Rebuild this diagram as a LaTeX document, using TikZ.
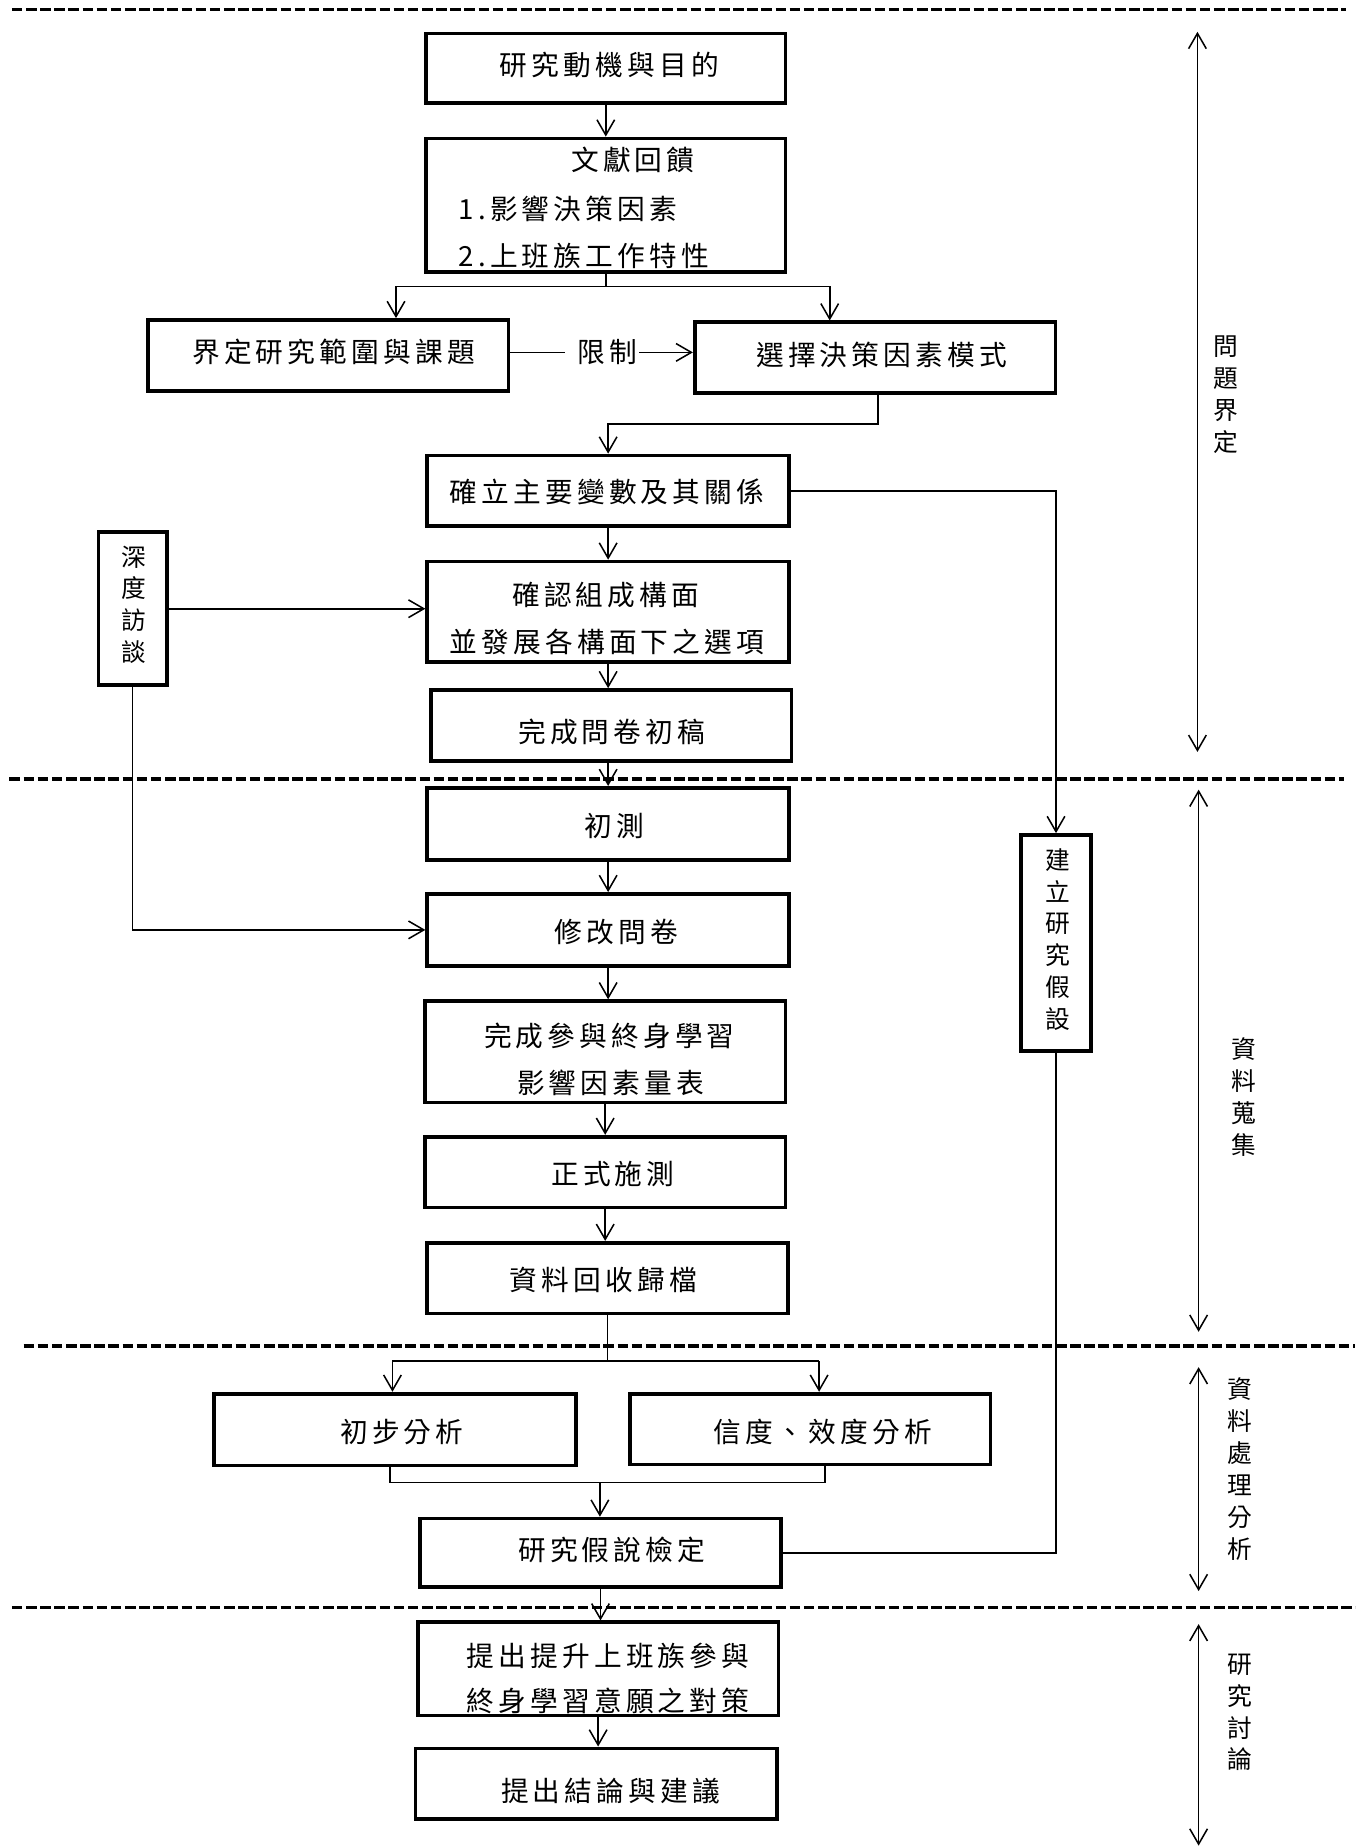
\documentclass[tikz,border=0pt]{standalone}
\usepackage{fontspec}
\newfontfamily\cjk{Noto Sans CJK TC}[LetterSpace=15]
\newfontfamily\cjkv{Noto Sans CJK TC}
\usetikzlibrary{arrows.meta}
\tikzset{
  box/.style={draw, line width=3.2pt, inner sep=0pt},
  txt/.style={font=\cjk\fontsize{23.5}{30}\selectfont, inner sep=0pt},
  vtxt/.style={font=\cjkv\fontsize{21}{27}\selectfont, align=center, inner sep=0pt},
  conn/.style={line width=1.4pt},
  arr/.style={conn, -{Straight Barb[length=13pt,width=15pt,line width=1.3pt]}},
  dbl/.style={conn, {Straight Barb[length=13pt,width=15pt,line width=1.3pt]}-{Straight Barb[length=13pt,width=15pt,line width=1.3pt]}},
  sep/.style={line width=3pt, dash pattern=on 9pt off 3pt},
}
\begin{document}
\begin{tikzpicture}[x=1pt,y=-1pt]
\useasboundingbox (0,0) rectangle (1150,1568);
% separators
\coordinate (s1a) at (10,8);    \coordinate (s1b) at (1142,8);
\coordinate (s2a) at (8,661);   \coordinate (s2b) at (1140,661);
\coordinate (s3a) at (20,1142); \coordinate (s3b) at (1150,1142);
\coordinate (s4a) at (10,1364); \coordinate (s4b) at (1150,1364);
\draw[sep] (s1a) -- (s1b);
\draw[sep] (s2a) -- (s2b);
\draw[sep] (s3a) -- (s3b);
\draw[sep] (s4a) -- (s4b);
% boxes
\node[box, minimum width=305, minimum height=59] (n1) at (514,58) {};
\node[box, minimum width=305, minimum height=113] (n2) at (514,174) {};
\node[box, minimum width=306, minimum height=60] (n3) at (278.5,301.5) {};
\node[box, minimum width=306, minimum height=60] (n4) at (742.5,303.5) {};
\node[box, minimum width=307, minimum height=60] (n5) at (516,416.5) {};
\node[box, minimum width=307, minimum height=85] (n6) at (516,519) {};
\node[box, minimum width=306, minimum height=60] (n7) at (518.5,615.5) {};
\node[box, minimum width=307, minimum height=61] (n8) at (516,699) {};
\node[box, minimum width=307, minimum height=61] (n9) at (516,789) {};
\node[box, minimum width=306, minimum height=86] (n10) at (513.5,892.5) {};
\node[box, minimum width=306, minimum height=60] (n11) at (513.5,994.5) {};
\node[box, minimum width=306, minimum height=60] (n12) at (515.5,1084.5) {};
\node[box, minimum width=307, minimum height=61] (n13) at (335,1213) {};
\node[box, minimum width=306, minimum height=60] (n14) at (687.5,1212.5) {};
\node[box, minimum width=306, minimum height=58] (n15) at (509.5,1317.5) {};
\node[box, minimum width=306, minimum height=79] (n16) at (507.5,1416) {};
\node[box, minimum width=307, minimum height=60] (n17) at (506,1513.5) {};
\node[box, minimum width=58, minimum height=130] (n18) at (112.5,516.5) {};
\node[box, minimum width=59, minimum height=183] (n19) at (896,800) {};
% texts
\node[txt] (t1) at (517,55) {研究動機與目的};
\node[txt] (t2a) at (537,136) {文獻回饋};
\node[txt, anchor=west] (t2b) at (389,177) {1.影響決策因素};
\node[txt, anchor=west] (t2c) at (389,217) {2.上班族工作特性};
\node[txt] (t3) at (283,299) {界定研究範圍與課題};
\node[txt] (lim) at (515,299) {限制};
\node[txt] (t4) at (748,301) {選擇決策因素模式};
\node[txt] (t5) at (515,417) {確立主要變數及其關係};
\node[txt] (t6a) at (514,505) {確認組成構面};
\node[txt] (t6b) at (515,545) {並發展各構面下之選項};
\node[txt] (t7) at (519,621) {完成問卷初稿};
\node[txt] (t8) at (521,701) {初測};
\node[txt] (t9) at (523,791) {修改問卷};
\node[txt] (t10a) at (517,879) {完成參與終身學習};
\node[txt] (t10b) at (518,919) {影響因素量表};
\node[txt] (t11) at (520,996) {正式施測};
\node[txt] (t12) at (512,1086) {資料回收歸檔};
\node[txt] (t13) at (341,1215) {初步分析};
\node[txt] (t14) at (698,1215) {信度、效度分析};
\node[txt] (t15) at (519,1315) {研究假說檢定};
\node[txt] (t16a) at (516,1405) {提出提升上班族參與};
\node[txt] (t16b) at (516,1443) {終身學習意願之對策};
\node[txt] (t17) at (518,1520) {提出結論與建議};
\node[vtxt] (t18) at (114,513) {深\\度\\訪\\談};
\node[vtxt] (t19) at (898,797) {建\\立\\研\\究\\假\\設};
% side labels
\node[vtxt] (L1) at (1040,335) {問\\題\\界\\定};
\node[vtxt] (L2) at (1055,931) {資\\料\\蒐\\集};
\node[vtxt] (L3) at (1052,1246.5) {資\\料\\處\\理\\分\\析};
\node[vtxt] (L4) at (1052,1453) {研\\究\\討\\論};
% side double arrows
\coordinate (d1a) at (1016,27);   \coordinate (d1b) at (1016,638);
\coordinate (d2a) at (1017,670);  \coordinate (d2b) at (1017,1130);
\coordinate (d3a) at (1017,1160); \coordinate (d3b) at (1017,1350);
\coordinate (d4a) at (1017,1378); \coordinate (d4b) at (1017,1566);
\draw[dbl] (d1a) -- (d1b);
\draw[dbl] (d2a) -- (d2b);
\draw[dbl] (d3a) -- (d3b);
\draw[dbl] (d4a) -- (d4b);
% connectors
\draw[arr] (n1.south) -- (n2.north);
\coordinate (bL) at (336,243); \coordinate (bR) at (704,243);
\draw[conn] (n2.south) -- (n2.south |- bL);
\draw[conn] (bL) -- (bR);
\draw[arr] (bL) -- (bL |- n3.north);
\draw[arr] (bR) -- (bR |- n4.north);
\draw[conn] (lim.west -| n3.east) -- ([xshift=-10pt]lim.west);
\draw[arr] ([xshift=2pt]lim.east) -- (lim.east -| n4.west);
\coordinate (c1) at (745,360);
\draw[arr] (c1 |- n4.south) -- (c1) -| (n5.north);
\draw[arr] (n5.south) -- (n6.north);
\draw[arr] (n6.south) -- (n6.south |- n7.north);
\draw[arr] (n7.south) -- (n7.south -| n8.north) -- (n8.north);
\draw[arr] (n8.south) -- (n9.north);
\draw[arr] (n9.south) -- (n9.south |- n10.north);
\draw[arr] (n10.south) -- (n11.north);
\draw[arr] (n11.south) -- (n11.south |- n12.north);
\coordinate (sL) at (333,1155); \coordinate (sR) at (695,1155);
\draw[conn] (n12.south) -- (n12.south |- sL);
\draw[conn] (sL) -- (sR);
\draw[arr] (sL) -- (sL |- n13.north);
\draw[arr] (sR) -- (sR |- n14.north);
\coordinate (mL) at (331,1258); \coordinate (mR) at (700,1258); \coordinate (mC) at (509,1258);
\draw[conn] (mL |- n13.south) -- (mL) -- (mR) -- (mR |- n14.south);
\draw[arr] (mC) -- (mC |- n15.north);
\draw[arr] (n15.south) -- (n15.south |- n16.north);
\draw[arr] (n16.south) -- (n16.south |- n17.north);
\draw[arr] (n5.east) -| (n19.north);
\draw[conn] (n19.south) |- (n15.east);
\draw[arr] (n18.east) -- (n18.east -| n6.west);
\draw[arr] (n18.south) |- (n9.west);
\end{tikzpicture}
\end{document}
